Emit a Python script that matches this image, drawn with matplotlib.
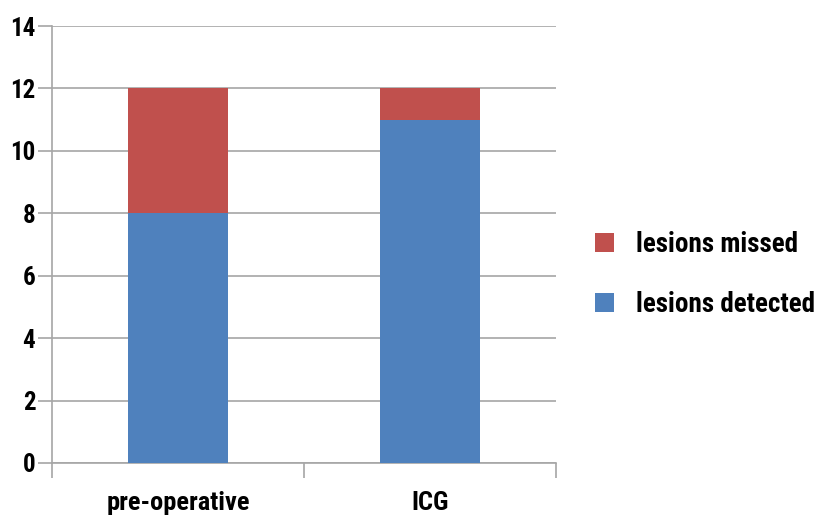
import matplotlib
matplotlib.use("Agg")
import matplotlib.pyplot as plt
from matplotlib.patches import Patch

categories = ["pre-operative", "ICG"]
lesions_detected = [8, 11]
lesions_missed = [4, 1]
y_ticks = [0, 2, 4, 6, 8, 10, 12, 14]

plt.rcParams["font.family"] = ["Roboto Condensed", "DejaVu Sans"]
plt.rcParams["font.stretch"] = "condensed"
plt.rcParams["font.weight"] = "bold"

BLUE = "#4F81BD"
RED = "#C0504D"
GRID = "#A6A6A6"

fig = plt.figure(figsize=(8.21, 5.16), dpi=100)
ax = fig.add_axes([52 / 821, 1 - 463 / 516, (556 - 52) / 821, (463 - 26) / 516])

x = list(range(len(categories)))
width = 0.4
ax.bar(x, lesions_detected, width=width, color=BLUE, zorder=3)
ax.bar(x, lesions_missed, width=width, bottom=lesions_detected, color=RED, zorder=3)

ax.set_xlim(-0.5, len(categories) - 0.5)
ax.set_ylim(0, 14)
ax.set_yticks(y_ticks)
ax.set_yticklabels([str(v) for v in y_ticks], fontsize=18, fontweight="bold")
ax.yaxis.grid(True, color=GRID, linewidth=1.2, zorder=0)
ax.tick_params(axis="y", length=10, width=1.2, color=GRID, pad=2)

# category boundaries carry the tick marks, centres carry the labels
ax.set_xticks([i - 0.5 for i in range(len(categories) + 1)])
ax.set_xticklabels([])
ax.tick_params(axis="x", which="major", length=11, width=1.2, color=GRID)
ax.set_xticks(x, minor=True)
ax.set_xticklabels(categories, minor=True, fontsize=19, fontweight="bold")
ax.tick_params(axis="x", which="minor", length=0, pad=20)

for side in ("top", "right"):
    ax.spines[side].set_visible(False)
for side in ("left", "bottom"):
    ax.spines[side].set_color(GRID)
    ax.spines[side].set_linewidth(1.2)

handles = [Patch(facecolor=RED), Patch(facecolor=BLUE)]
fig.legend(handles, ["lesions missed", "lesions detected"],
           loc="upper left", bbox_to_anchor=(595 / 821, 1 - 231 / 516),
           frameon=False, prop={"size": 19.5, "weight": "bold"},
           borderpad=0, borderaxespad=0,
           handlelength=0.7, handleheight=0.7, labelspacing=1.2,
           handletextpad=0.8)

fig.savefig("out.png", dpi=100)
